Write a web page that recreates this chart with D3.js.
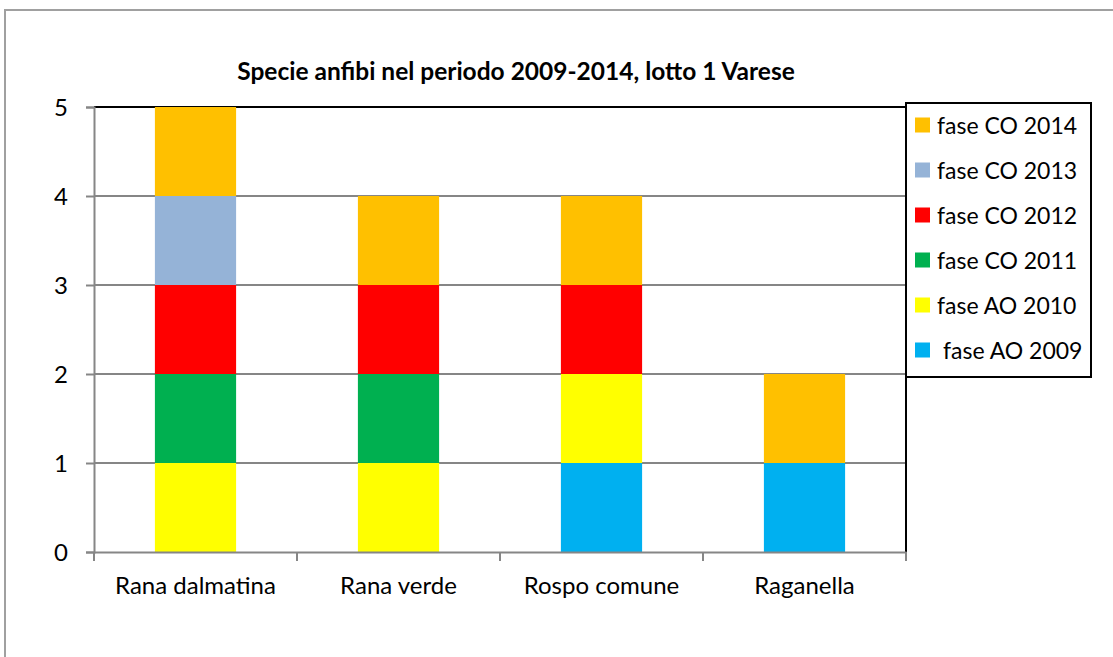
<!DOCTYPE html>
<html>
<head>
<meta charset="utf-8">
<title>Specie anfibi</title>
<script src="https://d3js.org/d3.v7.min.js"></script>
<style>
body{margin:0;background:#fff;}
svg text{font-family:Lato,"Open Sans",sans-serif;fill:#000;}
</style>
</head>
<body>
<svg class="chart"></svg>
<script>
// chart data
var categories=["Rana dalmatina","Rana verde","Rospo comune","Raganella"];
var seriesNames=["fase AO 2009","fase AO 2010","fase CO 2011","fase CO 2012","fase CO 2013","fase CO 2014"];
var seriesColors=["#00B0F0","#FFFF00","#00B050","#FF0000","#95B3D7","#FFC000"];
var ao2009=[0,0,1,1];
var ao2010=[1,1,1,0];
var co2011=[1,1,0,0];
var co2012=[1,1,1,0];
var co2013=[1,0,0,0];
var co2014=[1,1,1,1];
var yTicks=[0,1,2,3,4,5];

var width=1113,height=657;
var mLeft=94,mRight=906,mTop=107,mBottom=552;

var svg=d3.select(".chart").attr("width",width).attr("height",height);

// outer frame (only top/left visible in the picture)
svg.append("rect")
	.attr("x",5).attr("y",10)
	.attr("width",width+20).attr("height",height+20)
	.attr("fill","none").attr("stroke","#a0a0a0").attr("stroke-width",2);

var table=categories.map(function(c,i){
	return {cat:c,"fase AO 2009":ao2009[i],"fase AO 2010":ao2010[i],"fase CO 2011":co2011[i],
		"fase CO 2012":co2012[i],"fase CO 2013":co2013[i],"fase CO 2014":co2014[i]};
});
var stack=d3.stack().keys(seriesNames)(table);

var x=d3.scaleBand().domain(categories).range([mLeft,mRight]).paddingInner(0.6).paddingOuter(0.3);
var y=d3.scaleLinear().domain([0,5]).range([mBottom,mTop]);
var color=d3.scaleOrdinal().domain(seriesNames).range(seriesColors);

// gridlines
svg.append("g").selectAll("line").data(yTicks.filter(function(d){return d>0&&d<5;})).enter()
	.append("line")
	.attr("x1",mLeft).attr("x2",mRight)
	.attr("y1",function(d){return y(d);}).attr("y2",function(d){return y(d);})
	.attr("stroke","#868686").attr("stroke-width",2);

// plot border top/right
svg.append("path")
	.attr("d","M"+mLeft+","+mTop+"H"+mRight+"V"+mBottom)
	.attr("fill","none").attr("stroke","#000").attr("stroke-width",2);

// bars
svg.append("g").selectAll("g").data(stack).enter()
	.append("g").attr("fill",function(d){return color(d.key);})
	.selectAll("rect").data(function(d){return d;}).enter()
	.append("rect")
	.attr("x",function(d){return x(d.data.cat);})
	.attr("width",x.bandwidth())
	.attr("y",function(d){return y(d[1]);})
	.attr("height",function(d){return y(d[0])-y(d[1]);});

// y axis
var yAxis=svg.append("g").attr("transform","translate("+mLeft+",0)")
	.call(d3.axisLeft(y).tickValues(yTicks).tickSize(8).tickPadding(18).tickFormat(d3.format("d")));
yAxis.select(".domain").attr("stroke","#868686").attr("stroke-width",2);
yAxis.selectAll(".tick line").attr("stroke","#868686").attr("stroke-width",2);
yAxis.selectAll("text").attr("font-size","24px").attr("dy","0.35em");

// x axis
var xAxis=svg.append("g").attr("transform","translate(0,"+mBottom+")")
	.call(d3.axisBottom(x).tickSize(0).tickPadding(25));
xAxis.select(".domain").attr("stroke","#868686").attr("stroke-width",2);
xAxis.selectAll("text").attr("font-size","24px");
var step=x.step();
xAxis.selectAll(".sep").data(d3.range(categories.length+1)).enter()
	.append("line")
	.attr("x1",function(i){return mLeft+i*step;}).attr("x2",function(i){return mLeft+i*step;})
	.attr("y1",0).attr("y2",9)
	.attr("stroke","#868686").attr("stroke-width",2);

// title
svg.append("text")
	.attr("x",516).attr("y",80)
	.attr("text-anchor","middle")
	.attr("font-size","24.5px").attr("font-weight","bold")
	.text("Specie anfibi nel periodo 2009-2014, lotto 1 Varese");

// legend (reverse order)
var legend=svg.append("g");
legend.append("rect")
	.attr("x",906).attr("y",103).attr("width",185).attr("height",274)
	.attr("fill","#fff").attr("stroke","#000").attr("stroke-width",2);
var items=legend.selectAll("g.item").data(seriesNames.slice().reverse()).enter()
	.append("g").attr("class","item")
	.attr("transform",function(d,i){return "translate(915,"+(126+i*45)+")";});
items.append("rect").attr("x",0).attr("y",-8.5).attr("width",15).attr("height",15)
	.attr("fill",function(d){return color(d);});
items.append("text")
	.attr("x",function(d){return d=="fase AO 2009"?28:22;})
	.attr("dy","0.35em")
	.attr("font-size","23px")
	.text(function(d){return d;});
</script>
</body>
</html>
